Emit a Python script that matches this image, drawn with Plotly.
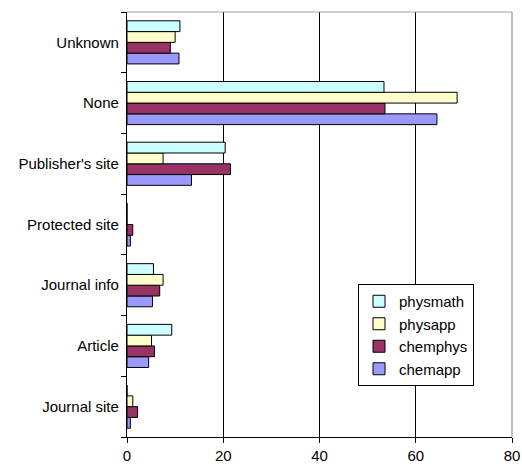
import plotly.graph_objects as go

categories = ["Journal site", "Article", "Journal info", "Protected site",
              "Publisher's site", "None", "Unknown"]
physmath = [0, 9.3, 5.5, 0, 20.4, 53.4, 11.0]
physapp = [1.2, 5.1, 7.5, 0, 7.5, 68.6, 10.0]
chemphys = [2.2, 5.7, 6.8, 1.2, 21.5, 53.6, 9.0]
chemapp = [0.7, 4.5, 5.3, 0.7, 13.4, 64.4, 10.8]

series = [("chemapp", chemapp, "#9999FF"),
          ("chemphys", chemphys, "#993366"),
          ("physapp", physapp, "#FFFFCC"),
          ("physmath", physmath, "#CCFFFF")]

fig = go.Figure()
for name, vals, col in series:
    fig.add_trace(go.Bar(y=categories, x=vals, name=name, orientation="h",
                         marker=dict(color=col, line=dict(color="black", width=1))))

fig.update_layout(
    width=522, height=466,
    margin=dict(l=127, r=10, t=12, b=29, autoexpand=False),
    paper_bgcolor="white", plot_bgcolor="white",
    barmode="group", bargap=0.29, bargroupgap=0,
    font=dict(family="Liberation Sans, Arial, sans-serif", size=15, color="black"),
    legend=dict(x=0.6, y=0.36, xanchor="left", yanchor="top",
                traceorder="reversed", bordercolor="black", borderwidth=1,
                bgcolor="white", font=dict(size=15), tracegroupgap=0,
                itemwidth=30),
    xaxis=dict(range=[0, 80], dtick=20, showgrid=True, gridcolor="black",
               gridwidth=1, showline=True, linecolor="black", linewidth=1,
               ticks="outside", ticklen=5, tickcolor="black", zeroline=False,
               automargin=False),
    yaxis=dict(type="category", tickson="boundaries", ticks="outside",
               ticklen=5, tickcolor="black", showline=True, linecolor="black",
               linewidth=1, showgrid=False, ticksuffix=" ", automargin=False),
    shapes=[
        dict(type="line", xref="paper", yref="paper", x0=0, x1=1, y0=1, y1=1,
             line=dict(color="#A0A0A0", width=1)),
        dict(type="line", xref="paper", yref="paper", x0=1, x1=1, y0=0, y1=1,
             line=dict(color="#808080", width=1)),
    ],
)

fig.write_html("out.html", config={"displayModeBar": False},
               post_script="document.body.style.margin='0';document.body.style.overflow='hidden';")
